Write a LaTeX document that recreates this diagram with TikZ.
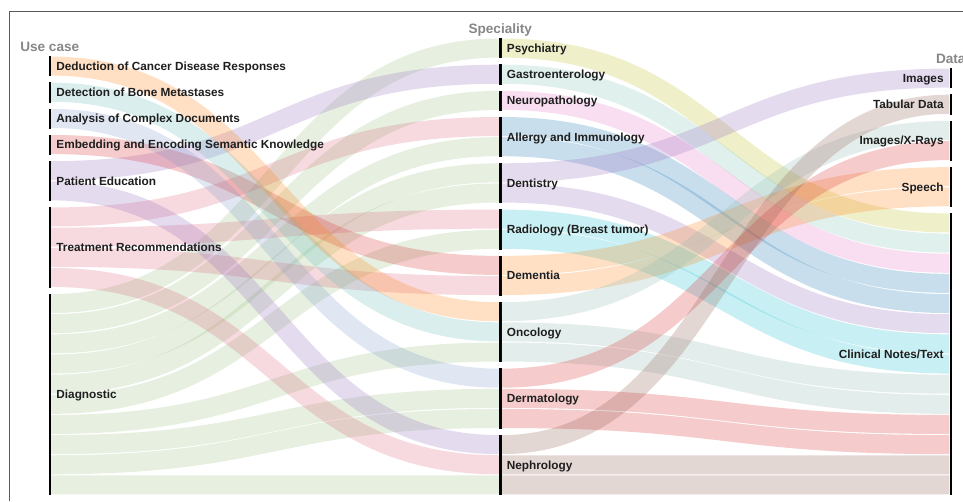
\documentclass[tikz,border=0pt]{standalone}
\usepackage{fontspec}
\setmainfont{Liberation Sans}
\begin{document}
% flow unit (height of one item) in pt
\def\uw{20.15}
\definecolor{cOrange}{RGB}{255,127,14}
\definecolor{cTeal}{RGB}{99,185,185}
\definecolor{cAna}{RGB}{125,151,200}
\definecolor{cRed}{RGB}{214,39,40}
\definecolor{cPurple}{RGB}{148,103,189}
\definecolor{cTreat}{RGB}{220,100,120}
\definecolor{cDiag}{RGB}{150,190,125}
\definecolor{cOlive}{RGB}{188,189,34}
\definecolor{cGastro}{RGB}{125,195,178}
\definecolor{cPink}{RGB}{227,119,194}
\definecolor{cBlue}{RGB}{31,119,180}
\definecolor{cCyan}{RGB}{23,190,207}
\definecolor{cOnc}{RGB}{140,185,175}
\definecolor{cBrown}{RGB}{140,86,75}
\definecolor{headgray}{RGB}{135,135,135}
\definecolor{labtext}{RGB}{30,30,30}
\definecolor{framegray}{RGB}{90,90,90}
\begin{tikzpicture}[x=1pt,y=-1pt,
  barbox/.style={rectangle, fill=black, inner sep=0pt, minimum width=2.5pt, anchor=north},
  lab/.style={inner sep=0pt, text=labtext, font=\fontsize{11.8}{13}\selectfont\bfseries},
  head/.style={inner sep=0pt, anchor=base, text=headgray, font=\fontsize{13.6}{15}\selectfont\bfseries},
  linkband/.style={line width=\uw pt-1.1pt, draw opacity=0.24}]
\useasboundingbox (0,0) rectangle (963,501);

% frame
\draw[framegray, line width=1.1pt] (9.5,501) -- (9.5,11.7) -- (963,11.7);

% node bars: name, x, top, number of items
\newcommand\barnode[4]{\node[barbox, minimum height={#4*\uw pt}] (#1) at (#2,#3) {};}
% flow band: colour, source, source slot, target, target slot
\newcommand\sklink[5]{\draw[linkband, draw=#1]
  ([yshift={-(#3+0.5)*\uw pt}]#2.north east) .. controls +(224,0) and +(-224,0) ..
  ([yshift={-(#5+0.5)*\uw pt}]#4.north west);}

% use cases
\barnode{ded}{49.75}{56}{1}
\barnode{det}{49.75}{82.15}{1}
\barnode{ana}{49.75}{108.3}{1}
\barnode{emb}{49.75}{134.45}{1}
\barnode{pat}{49.75}{160.6}{2}
\barnode{tre}{49.75}{206.9}{4}
\barnode{dia}{49.75}{293.5}{10}
% specialities
\barnode{psy}{500.25}{38}{1}
\barnode{gas}{500.25}{64.15}{1}
\barnode{neu}{500.25}{90.3}{1}
\barnode{all}{500.25}{116.45}{2}
\barnode{den}{500.25}{162.75}{2}
\barnode{rad}{500.25}{209.05}{2}
\barnode{dem}{500.25}{255.35}{2}
\barnode{onc}{500.25}{301.65}{3}
\barnode{der}{500.25}{368.1}{3}
\barnode{nep}{500.25}{434.55}{3}
% data types
\barnode{img}{950.75}{68}{1}
\barnode{tab}{950.75}{94.15}{1}
\barnode{xra}{950.75}{120.3}{2}
\barnode{spe}{950.75}{166.6}{2}
\barnode{cli}{950.75}{212.9}{14}

% use case -> speciality
\sklink{cDiag}{dia}{0}{psy}{0}
\sklink{cDiag}{dia}{1}{neu}{0}
\sklink{cDiag}{dia}{2}{all}{1}
\sklink{cDiag}{dia}{3}{den}{0}
\sklink{cDiag}{dia}{4}{den}{1}
\sklink{cDiag}{dia}{5}{rad}{1}
\sklink{cDiag}{dia}{6}{onc}{2}
\sklink{cDiag}{dia}{7}{der}{1}
\sklink{cDiag}{dia}{8}{der}{2}
\sklink{cDiag}{dia}{9}{nep}{2}
\sklink{cTreat}{tre}{0}{all}{0}
\sklink{cTreat}{tre}{1}{rad}{0}
\sklink{cTreat}{tre}{2}{dem}{1}
\sklink{cTreat}{tre}{3}{nep}{1}
\sklink{cPurple}{pat}{0}{gas}{0}
\sklink{cPurple}{pat}{1}{nep}{0}
\sklink{cRed}{emb}{0}{dem}{0}
\sklink{cAna}{ana}{0}{der}{0}
\sklink{cTeal}{det}{0}{onc}{1}
\sklink{cOrange}{ded}{0}{onc}{0}

% speciality -> data
\sklink{cOlive}{psy}{0}{cli}{0}
\sklink{cGastro}{gas}{0}{cli}{1}
\sklink{cPink}{neu}{0}{cli}{2}
\sklink{cBlue}{all}{0}{cli}{3}
\sklink{cBlue}{all}{1}{cli}{4}
\sklink{cPurple}{den}{0}{img}{0}
\sklink{cPurple}{den}{1}{cli}{5}
\sklink{cCyan}{rad}{0}{cli}{6}
\sklink{cCyan}{rad}{1}{cli}{7}
\sklink{cOrange}{dem}{0}{spe}{0}
\sklink{cOrange}{dem}{1}{spe}{1}
\sklink{cOnc}{onc}{0}{xra}{0}
\sklink{cOnc}{onc}{1}{cli}{8}
\sklink{cOnc}{onc}{2}{cli}{9}
\sklink{cRed}{der}{0}{xra}{1}
\sklink{cRed}{der}{1}{cli}{10}
\sklink{cRed}{der}{2}{cli}{11}
\sklink{cBrown}{nep}{0}{tab}{0}
\sklink{cBrown}{nep}{1}{cli}{12}
\sklink{cBrown}{nep}{2}{cli}{13}

% column headings
\node[head] (h-use) at (49.75,51.5) {Use case};
\node[head] (h-spec) at (500.25,33) {Speciality};
\node[head] (h-data) at (950.75,63.5) {Data};

% labels
\newcommand\leftlab[2]{\node[lab, anchor=base west] (#1-t) at ([xshift=5pt,yshift=-4.2pt]#1.east) {#2};}
\newcommand\rightlab[2]{\node[lab, anchor=base east] (#1-t) at ([xshift=-5.5pt,yshift=-4.2pt]#1.west) {#2};}
\leftlab{ded}{Deduction of Cancer Disease Responses}
\leftlab{det}{Detection of Bone Metastases}
\leftlab{ana}{Analysis of Complex Documents}
\leftlab{emb}{Embedding and Encoding Semantic Knowledge}
\leftlab{pat}{Patient Education}
\leftlab{tre}{Treatment Recommendations}
\leftlab{dia}{Diagnostic}
\leftlab{psy}{Psychiatry}
\leftlab{gas}{Gastroenterology}
\leftlab{neu}{Neuropathology}
\leftlab{all}{Allergy and Immunology}
\leftlab{den}{Dentistry}
\leftlab{rad}{Radiology (Breast tumor)}
\leftlab{dem}{Dementia}
\leftlab{onc}{Oncology}
\leftlab{der}{Dermatology}
\leftlab{nep}{Nephrology}
\rightlab{img}{Images}
\rightlab{tab}{Tabular Data}
\rightlab{xra}{Images/X-Rays}
\rightlab{spe}{Speech}
\rightlab{cli}{Clinical Notes/Text}
\end{tikzpicture}
\end{document}
